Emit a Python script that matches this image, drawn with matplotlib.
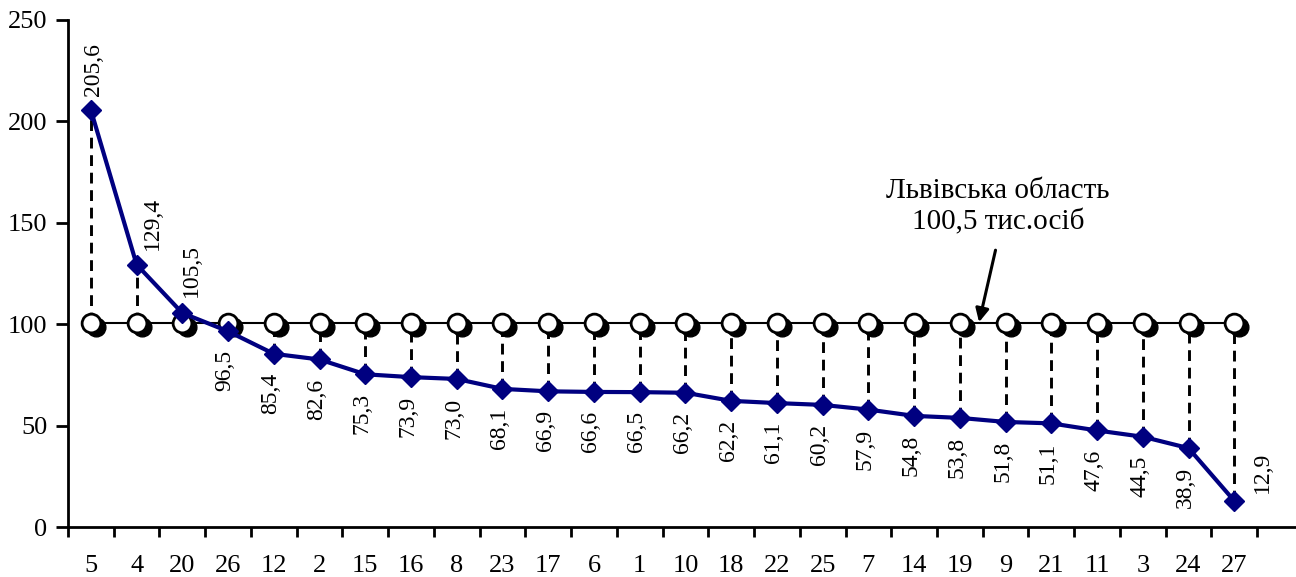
import matplotlib
matplotlib.use("Agg")
import matplotlib.pyplot as plt
import matplotlib.transforms as mtransforms
import numpy as np

plt.rcParams['font.family'] = ['Liberation Serif', 'DejaVu Serif']

categories = ['5', '4', '20', '26', '12', '2', '15', '16', '8', '23', '17', '6', '1',
              '10', '18', '22', '25', '7', '14', '19', '9', '21', '11', '3', '24', '27']
values = [205.6, 129.4, 105.5, 96.5, 85.4, 82.6, 75.3, 73.9, 73.0, 68.1, 66.9, 66.6, 66.5,
          66.2, 62.2, 61.1, 60.2, 57.9, 54.8, 53.8, 51.8, 51.1, 47.6, 44.5, 38.9, 12.9]
region_value = 100.5
region_label = 'Львівська область\n100,5 тис.осіб'
y_ticks = [0, 50, 100, 150, 200, 250]

fig = plt.figure(figsize=(12.96, 5.77), dpi=100)
ax = fig.add_axes([68/1296, 50/577, 1 - 68/1296, (527-20)/577])

x = np.arange(len(categories))
ref = [region_value] * len(categories)

# dashed connectors
for xi, v in zip(x, values):
    ax.plot([xi, xi], [min(v, region_value), max(v, region_value)], color='black',
            lw=2.1, dashes=(3.7, 2.3), zorder=1)

# reference line with shadowed circles
ax.plot(x, ref, color='black', lw=1.5, zorder=2)
shadow = mtransforms.offset_copy(ax.transData, fig=fig, x=5, y=-4, units='dots')
ax.plot(x, ref, linestyle='none', marker='o', ms=13.5, mfc='black', mec='black',
        transform=shadow, zorder=3)
ax.plot(x, ref, linestyle='none', marker='o', ms=13.5, mfc='white', mec='black',
        mew=2, zorder=4)

# main series
ax.plot(x, values, color='#000080', lw=3, marker='D', ms=10.5, mfc='#000080',
        mec='#000080', zorder=5)

# value labels
fs_lab = 17
for i, (xi, v) in enumerate(zip(x, values)):
    s = f'{v:.1f}'.replace('.', ',')
    if i == 0:
        ax.annotate(s, (xi, v), xytext=(3, 14), textcoords='offset pixels',
                    rotation=90, ha='center', va='bottom', fontsize=fs_lab)
    elif i == 1:
        ax.annotate(s, (xi, v), xytext=(16, 15), textcoords='offset pixels',
                    rotation=90, ha='center', va='bottom', fontsize=fs_lab)
    elif i == 2:
        ax.annotate(s, (xi, v), xytext=(9, 16), textcoords='offset pixels',
                    rotation=90, ha='center', va='bottom', fontsize=fs_lab)
    elif i == len(values) - 1:
        ax.annotate(s, (xi, v), xytext=(28, 8), textcoords='offset pixels',
                    rotation=90, ha='center', va='bottom', fontsize=fs_lab)
    else:
        ax.annotate(s, (xi, v), xytext=(-3, -19), textcoords='offset pixels',
                    rotation=90, ha='center', va='top', fontsize=fs_lab)

# annotation
ax.text(19.83, 144, region_label, ha='center', va='bottom', fontsize=21,
        linespacing=1.25)
ax.annotate('', xy=(19.42, region_value + 0.5), xytext=(19.78, 136.5),
            arrowprops=dict(arrowstyle='-|>', color='black', lw=2.2, mutation_scale=20,
                            shrinkA=0, shrinkB=0))

ax.set_xlim(-0.5, 26.35)
ax.set_ylim(0, 250)
ax.set_yticks(y_ticks)
ax.set_yticklabels([str(t) for t in y_ticks], fontsize=19)
ax.set_xticks(x)
ax.set_xticklabels(categories, fontsize=19)
ax.tick_params(axis='x', which='major', length=0, pad=20)
ax.set_xticks(np.arange(-0.5, len(categories), 1.0), minor=True)
ax.tick_params(axis='x', which='minor', length=7, width=2, direction='out')
ax.tick_params(axis='y', length=9, width=2, direction='out', pad=6)

for side in ('top', 'right'):
    ax.spines[side].set_visible(False)
for side in ('left', 'bottom'):
    ax.spines[side].set_linewidth(2)

fig.savefig('out.png', dpi=100)
